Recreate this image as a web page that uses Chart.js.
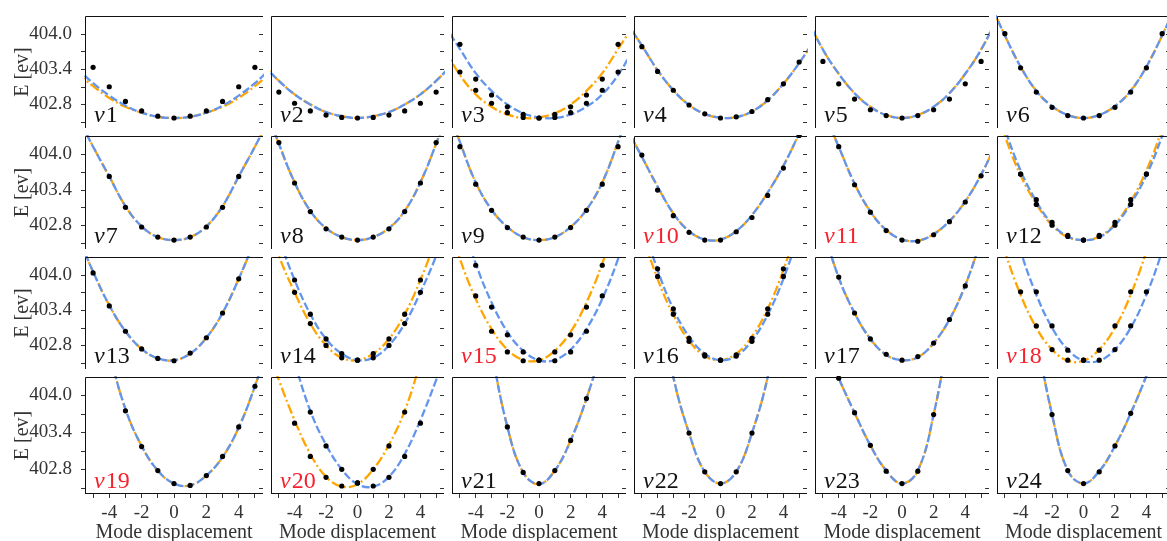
<!DOCTYPE html>
<html>
<head>
<meta charset="utf-8">
<title>Mode displacement scans</title>
<script src="https://cdn.jsdelivr.net/npm/chart.js@4.4.1/dist/chart.umd.min.js"></script>
<style>
  html, body { margin: 0; padding: 0; background: #fff; overflow: hidden; }
  #figure { position: relative; width: 1167px; height: 541px; overflow: hidden; }
  #figure canvas { position: absolute; }
</style>
</head>
<body>
<div id="figure"></div>
<script>
// displacement grid of the computed points and of the sampled fit curves
const dispX = [-5, -4, -3, -2, -1, 0, 1, 2, 3, 4, 5]
const fitX = [-6, -5, -4, -3, -2, -1, 0, 1, 2, 3, 4, 5, 6]

const xTickValues = [-5, -4, -3, -2, -1, 0, 1, 2, 3, 4, 5]
const xTickLabels = ['', '-4', '', '-2', '', '0', '', '2', '', '4', '']
const yTickValues = [402.5, 402.8, 403.1, 403.4, 403.7, 404.0]
const yTickLabels = ['', '402.8', '', '403.4', '', '404.0']
const redModes = [10, 11, 15, 18, 19, 20]

// energies in eV (points: dispX, curves: fitX)
const nu1Pts = [403.43, 403.10, 402.85, 402.69, 402.60, 402.57, 402.60, 402.69, 402.85, 403.10, 403.43]
const nu1Orange = [403.34, 403.11, 402.91, 402.76, 402.66, 402.59, 402.57, 402.59, 402.66, 402.76, 402.91, 403.11, 403.34]
const nu1Blue = [403.42, 403.16, 402.95, 402.78, 402.66, 402.59, 402.57, 402.59, 402.66, 402.78, 402.95, 403.16, 403.42]

const nu2Pts = [403.01, 402.82, 402.69, 402.62, 402.58, 402.57, 402.58, 402.62, 402.69, 402.82, 403.01]
const nu2Fit = [403.47, 403.2, 402.97, 402.8, 402.67, 402.6, 402.57, 402.6, 402.67, 402.8, 402.97, 403.2, 403.47]

const nu3PtsBlue = [403.82, 403.23, 402.96, 402.76, 402.63, 402.57, 402.58, 402.66, 402.82, 403.04, 403.35]
const nu3PtsOrange = [403.35, 403.04, 402.82, 402.66, 402.58, 402.57, 402.63, 402.76, 402.96, 403.23, 403.82]
const nu3Blue = [404.15, 403.74, 403.33, 403.03, 402.8, 402.65, 402.58, 402.57, 402.63, 402.76, 402.97, 403.3, 403.75]
const nu3Orange = [403.75, 403.3, 402.97, 402.76, 402.63, 402.57, 402.58, 402.65, 402.8, 403.03, 403.33, 403.74, 404.15]

const nu4Pts = [403.78, 403.36, 403.04, 402.79, 402.64, 402.57, 402.59, 402.68, 402.88, 403.15, 403.52]
const nu4Fit = [404.2, 403.8, 403.38, 403.04, 402.79, 402.64, 402.575, 402.585, 402.68, 402.87, 403.15, 403.5, 403.9]

const nu5Pts = [403.53, 403.15, 402.89, 402.71, 402.61, 402.57, 402.61, 402.71, 402.89, 403.15, 403.53]
const nu5Fit = [404.25, 403.73, 403.32, 402.99, 402.76, 402.62, 402.57, 402.62, 402.76, 402.99, 403.32, 403.73, 404.25]

const nu6Pts = [404.0, 403.42, 403.01, 402.75, 402.61, 402.57, 402.61, 402.75, 403.01, 403.42, 404.0]
const nu6Fit = [404.55, 403.97, 403.44, 403.03, 402.77, 402.62, 402.57, 402.62, 402.77, 403.03, 403.44, 403.97, 404.55]

const nu7Pts = [null, 403.62, 403.10, 402.77, 402.60, 402.55, 402.60, 402.77, 403.10, 403.62, null]
const nu7Fit = [404.65, 404.12, 403.62, 403.12, 402.78, 402.6, 402.55, 402.6, 402.78, 403.12, 403.62, 404.12, 404.65]

const nu8Pts = [404.19, 403.51, 403.03, 402.74, 402.60, 402.55, 402.60, 402.74, 403.03, 403.51, 404.19]
const nu8Fit = [404.9, 404.17, 403.52, 403.04, 402.75, 402.6, 402.55, 402.6, 402.75, 403.04, 403.52, 404.17, 404.9]

const nu9Pts = [404.12, 403.49, 403.05, 402.76, 402.60, 402.55, 402.60, 402.76, 403.05, 403.49, 404.12]
const nu9Fit = [404.95, 404.2, 403.52, 403.06, 402.77, 402.6, 402.55, 402.6, 402.77, 403.06, 403.52, 404.2, 404.95]

const nu10Pts = [403.98, 403.39, 402.96, 402.68, 402.55, 402.55, 402.69, 402.93, 403.30, 403.76, 404.31]
const nu10Fit = [404.45, 403.95, 403.45, 403.0, 402.7, 402.56, 402.56, 402.7, 402.97, 403.35, 403.8, 404.35, 405.0]

const nu11Pts = [null, 404.12, 403.48, 403.02, 402.71, 402.55, 402.53, 402.64, 402.86, 403.19, 403.63]
const nu11Fit = [405.45, 404.75, 404.12, 403.5, 403.03, 402.72, 402.56, 402.54, 402.65, 402.87, 403.2, 403.65, 404.2]

const nu12PtsBlue = [null, 403.66, 403.23, 402.85, 402.63, 402.55, 402.61, 402.80, 403.15, 403.66, null]
const nu12PtsOrange = [null, 403.66, 403.15, 402.80, 402.61, 402.55, 402.63, 402.85, 403.23, 403.66, null]
const nu12Orange = [405.1, 404.3, 403.64, 403.16, 402.8, 402.6, 402.55, 402.61, 402.82, 403.2, 403.72, 404.42, 405.25]
const nu12Blue = [405.25, 404.42, 403.72, 403.2, 402.82, 402.61, 402.55, 402.6, 402.8, 403.16, 403.64, 404.3, 405.1]

const nu13Pts = [404.03, 403.47, 403.04, 402.74, 402.58, 402.54, 402.67, 402.93, 403.35, 403.93, null]
const nu13Fit = [404.7, 404.05, 403.48, 403.04, 402.74, 402.58, 402.55, 402.66, 402.93, 403.35, 403.93, 404.6, 405.4]

const nu14PtsBlue = [null, 403.91, 403.33, 402.91, 402.66, 402.55, 402.59, 402.80, 403.17, 403.70, null]
const nu14PtsOrange = [null, 403.70, 403.17, 402.80, 402.59, 402.55, 402.66, 402.91, 403.33, 403.91, null]
const nu14Orange = [405.1, 404.32, 403.70, 403.17, 402.80, 402.59, 402.55, 402.66, 402.91, 403.33, 403.91, 404.62, 405.45]
const nu14Blue = [405.45, 404.62, 403.91, 403.33, 402.91, 402.66, 402.55, 402.59, 402.80, 403.17, 403.70, 404.32, 405.1]

const nu15PtsOrange = [null, 403.64, 403.04, 402.69, 402.54, 402.55, 402.69, 402.98, 403.45, 404.16, null]
const nu15PtsBlue = [null, 404.16, 403.45, 402.98, 402.69, 402.55, 402.54, 402.69, 403.04, 403.64, null]
const nu15Orange = [405.12, 404.27, 403.59, 403.08, 402.73, 402.555, 402.547, 402.71, 403.03, 403.53, 404.19, 405.03, 406.03]
const nu15Blue = [406.03, 405.03, 404.19, 403.53, 403.03, 402.71, 402.547, 402.555, 402.73, 403.08, 403.59, 404.27, 405.12]

const nu16PtsOrange = [null, 403.97, 403.33, 402.87, 402.62, 402.55, 402.64, 402.92, 403.42, 404.10, null]
const nu16PtsBlue = [null, 404.10, 403.42, 402.92, 402.64, 402.55, 402.62, 402.87, 403.33, 403.97, null]
const nu16Orange = [405.72, 404.73, 403.93, 403.32, 402.88, 402.62, 402.55, 402.66, 402.95, 403.42, 404.08, 404.92, 405.94]
const nu16Blue = [405.94, 404.92, 404.08, 403.42, 402.95, 402.66, 402.55, 402.62, 402.88, 403.32, 403.93, 404.73, 405.72]

const nu17Pts = [null, 403.96, 403.35, 402.91, 402.65, 402.55, 402.61, 402.84, 403.24, 403.81, null]
const nu17Fit = [405.75, 404.8, 403.95, 403.35, 402.91, 402.64, 402.55, 402.6, 402.84, 403.24, 403.82, 404.6, 405.5]

const nu18PtsOrange = [null, 403.71, 403.13, 402.73, 402.55, 402.55, 402.72, 403.13, 403.71, null, null]
const nu18PtsBlue = [null, null, 403.71, 403.13, 402.72, 402.55, 402.55, 402.73, 403.13, 403.71, null]
const nu18Orange = [405.33, 404.4, 403.66, 403.1, 402.73, 402.54, 402.54, 402.73, 403.1, 403.66, 404.4, 405.33, 406.45]
const nu18Blue = [406.45, 405.33, 404.4, 403.66, 403.1, 402.73, 402.54, 402.54, 402.73, 403.1, 403.66, 404.4, 405.33]

const nu19Pts = [null, null, 403.75, 403.17, 402.78, 402.57, 402.54, 402.70, 403.01, 403.49, 404.15]
const nu19Fit = [407.0, 405.8, 404.7, 403.78, 403.18, 402.78, 402.57, 402.54, 402.7, 403.0, 403.48, 404.15, 404.95]

const nu20PtsOrange = [null, 403.55, 403.01, 402.67, 402.53, 402.58, 402.80, 403.18, 403.73, null, null]
const nu20PtsBlue = [null, null, 403.73, 403.18, 402.80, 402.58, 402.53, 402.67, 403.01, 403.55, null]
const nu20Orange = [404.95, 404.25, 403.6, 403.05, 402.68, 402.52, 402.56, 402.8, 403.2, 403.75, 404.55, 405.5, 406.6]
const nu20Blue = [406.6, 405.5, 404.55, 403.75, 403.2, 402.8, 402.56, 402.52, 402.68, 403.05, 403.6, 404.25, 404.95]

const nu21Pts = [null, null, null, 403.49, 402.75, 402.57, 402.78, 403.27, 403.95, null, null]
const nu21Fit = [410.0, 408.0, 406.3, 404.75, 403.49, 402.75, 402.56, 402.78, 403.27, 403.95, 404.8, 405.9, 407.2]

const nu22Pts = [null, null, null, 403.39, 402.76, 402.57, 402.76, 403.39, null, null, null]
const nu22Fit = [409.3, 407.4, 405.7, 404.3, 403.39, 402.76, 402.57, 402.76, 403.39, 404.3, 405.7, 407.4, 409.3]

const nu23Pts = [null, 404.28, 403.72, 403.19, 402.77, 402.57, 402.77, 403.69, null, null, null]
const nu23Fit = [405.6, 404.9, 404.28, 403.72, 403.19, 402.78, 402.57, 402.78, 403.69, 405.1, 406.8, 408.8, 411.0]

const nu24Pts = [null, null, null, 403.69, 402.78, 402.57, 402.76, 403.18, 403.71, null, null]
const nu24Fit = [410.0, 408.2, 406.5, 405.0, 403.69, 402.78, 402.57, 402.77, 403.18, 403.71, 404.32, 405.0, 405.8]

const modes = [
  { pts: [nu1Pts], orange: nu1Orange, blue: nu1Blue },
  { pts: [nu2Pts], orange: nu2Fit, blue: nu2Fit },
  { pts: [nu3PtsBlue, nu3PtsOrange], orange: nu3Orange, blue: nu3Blue },
  { pts: [nu4Pts], orange: nu4Fit, blue: nu4Fit },
  { pts: [nu5Pts], orange: nu5Fit, blue: nu5Fit },
  { pts: [nu6Pts], orange: nu6Fit, blue: nu6Fit },
  { pts: [nu7Pts], orange: nu7Fit, blue: nu7Fit },
  { pts: [nu8Pts], orange: nu8Fit, blue: nu8Fit },
  { pts: [nu9Pts], orange: nu9Fit, blue: nu9Fit },
  { pts: [nu10Pts], orange: nu10Fit, blue: nu10Fit },
  { pts: [nu11Pts], orange: nu11Fit, blue: nu11Fit },
  { pts: [nu12PtsBlue, nu12PtsOrange], orange: nu12Orange, blue: nu12Blue },
  { pts: [nu13Pts], orange: nu13Fit, blue: nu13Fit },
  { pts: [nu14PtsBlue, nu14PtsOrange], orange: nu14Orange, blue: nu14Blue },
  { pts: [nu15PtsBlue, nu15PtsOrange], orange: nu15Orange, blue: nu15Blue },
  { pts: [nu16PtsBlue, nu16PtsOrange], orange: nu16Orange, blue: nu16Blue },
  { pts: [nu17Pts], orange: nu17Fit, blue: nu17Fit },
  { pts: [nu18PtsBlue, nu18PtsOrange], orange: nu18Orange, blue: nu18Blue },
  { pts: [nu19Pts], orange: nu19Fit, blue: nu19Fit },
  { pts: [nu20PtsBlue, nu20PtsOrange], orange: nu20Orange, blue: nu20Blue },
  { pts: [nu21Pts], orange: nu21Fit, blue: nu21Fit },
  { pts: [nu22Pts], orange: nu22Fit, blue: nu22Fit },
  { pts: [nu23Pts], orange: nu23Fit, blue: nu23Fit },
  { pts: [nu24Pts], orange: nu24Fit, blue: nu24Fit }
]

// figure geometry (panel edges in page pixels)
const colEdges = [85, 267, 448, 630, 811, 993, 1174]
const rowEdges = [12, 132, 253, 373, 494]
const yAxisWidth = 85
const xAxisHeight = 47
const SERIF = '"Liberation Serif", "DejaVu Serif", serif'
const INK = '#333'

function toXY(xs, ys) {
  return xs.map((x, i) => ({ x: x, y: ys[i] })).filter(p => p.y !== null)
}

// box, y tick marks and the ν label of each panel
const panelDecor = {
  id: 'panelDecor',
  afterDraw(chart, args, opts) {
    const { ctx, chartArea } = chart
    const yScale = chart.scales.y
    const { left, right, top, bottom } = chartArea
    ctx.save()
    ctx.strokeStyle = '#111'
    ctx.lineWidth = 1
    ctx.beginPath()
    ctx.moveTo(left + 0.5, bottom)
    ctx.lineTo(left + 0.5, top + 0.5)
    ctx.lineTo(right, top + 0.5)
    if (opts.lastRow) {
      ctx.moveTo(left, bottom - 0.5)
      ctx.lineTo(right, bottom - 0.5)
    }
    ctx.stroke()

    ctx.strokeStyle = INK
    ctx.beginPath()
    yTickValues.forEach(v => {
      const y = Math.round(yScale.getPixelForValue(v)) + 0.5
      ctx.moveTo(right - 4, y)
      ctx.lineTo(right, y)
      if (opts.firstCol) {
        ctx.moveTo(left - 4, y)
        ctx.lineTo(left, y)
      }
    })
    ctx.stroke()

    const x0 = left + 9
    const y0 = bottom - 6
    ctx.fillStyle = opts.red ? '#f5222d' : '#111'
    ctx.textBaseline = 'alphabetic'
    ctx.font = 'italic 24px ' + SERIF
    ctx.fillText('ν', x0, y0)
    const w = ctx.measureText('ν').width
    ctx.font = '24px ' + SERIF
    ctx.fillText(String(opts.num), x0 + w + 1, y0)
    ctx.restore()
  }
}

function noPadding(s) {
  s.paddingTop = 0
  s.paddingBottom = 0
  s.paddingLeft = 0
  s.paddingRight = 0
}

function makePanel(mode, index) {
  const row = Math.floor(index / 6)
  const col = index % 6
  const firstCol = col === 0
  const lastRow = row === 3
  const left = firstCol ? 0 : colEdges[col]
  const top = rowEdges[row]
  const width = colEdges[col + 1] - left
  const height = rowEdges[row + 1] - top + (lastRow ? xAxisHeight : 0)

  const canvas = document.createElement('canvas')
  canvas.width = width
  canvas.height = height
  canvas.style.left = left + 'px'
  canvas.style.top = top + 'px'
  canvas.style.width = width + 'px'
  canvas.style.height = height + 'px'
  document.getElementById('figure').appendChild(canvas)

  const datasets = mode.pts.map(p => ({
    data: toXY(dispX, p),
    showLine: false,
    pointRadius: 2.6,
    pointBackgroundColor: '#000',
    pointBorderWidth: 0,
    clip: 1,
    order: 0
  }))
  datasets.push({
    data: toXY(fitX, mode.blue),
    showLine: true,
    pointRadius: 0,
    borderColor: '#6495ED',
    borderWidth: 2.3,
    borderDash: [8, 3],
    tension: 0.4,
    fill: false,
    clip: 1,
    order: 1
  })
  datasets.push({
    data: toXY(fitX, mode.orange),
    showLine: true,
    pointRadius: 0,
    borderColor: '#FFA500',
    borderWidth: 2.3,
    borderDash: [10, 3, 2, 3],
    tension: 0.4,
    fill: false,
    clip: 1,
    order: 2
  })

  new Chart(canvas, {
    type: 'scatter',
    data: { datasets: datasets },
    options: {
      responsive: false,
      maintainAspectRatio: false,
      animation: false,
      devicePixelRatio: 1,
      events: [],
      layout: { padding: 0 },
      elements: { line: { capBezierPoints: false } },
      plugins: {
        legend: { display: false },
        tooltip: { enabled: false },
        panelDecor: { firstCol: firstCol, lastRow: lastRow, num: index + 1, red: redModes.includes(index + 1) }
      },
      scales: {
        x: {
          type: 'linear',
          min: -5.5,
          max: 5.5,
          display: lastRow,
          afterBuildTicks: s => { s.ticks = xTickValues.map(v => ({ value: v })) },
          afterFit: s => { s.height = lastRow ? xAxisHeight : 0; noPadding(s) },
          grid: { drawOnChartArea: false, drawTicks: true, tickLength: 4, color: INK },
          border: { display: false },
          ticks: {
            autoSkip: false,
            maxRotation: 0,
            padding: 4,
            color: INK,
            font: { family: SERIF, size: 19 },
            callback: (v, i) => xTickLabels[i]
          },
          title: {
            display: true,
            text: 'Mode displacement',
            color: INK,
            padding: { top: 0, bottom: -2 },
            font: { family: SERIF, size: 20, lineHeight: 1 }
          }
        },
        y: {
          type: 'linear',
          min: 402.4,
          max: 404.3,
          display: firstCol,
          afterBuildTicks: s => { s.ticks = yTickValues.map(v => ({ value: v })) },
          afterFit: s => { s.width = firstCol ? yAxisWidth : 0; noPadding(s) },
          grid: { display: false },
          border: { display: false },
          ticks: {
            autoSkip: false,
            padding: 5,
            color: INK,
            font: { family: SERIF, size: 19 },
            callback: (v, i) => yTickLabels[i]
          },
          title: {
            display: true,
            text: 'E [ev]',
            color: INK,
            padding: { top: 11, bottom: 0 },
            font: { family: SERIF, size: 20, lineHeight: 1.2 }
          }
        }
      }
    },
    plugins: [panelDecor]
  })
}

modes.forEach(makePanel)
</script>
</body>
</html>
